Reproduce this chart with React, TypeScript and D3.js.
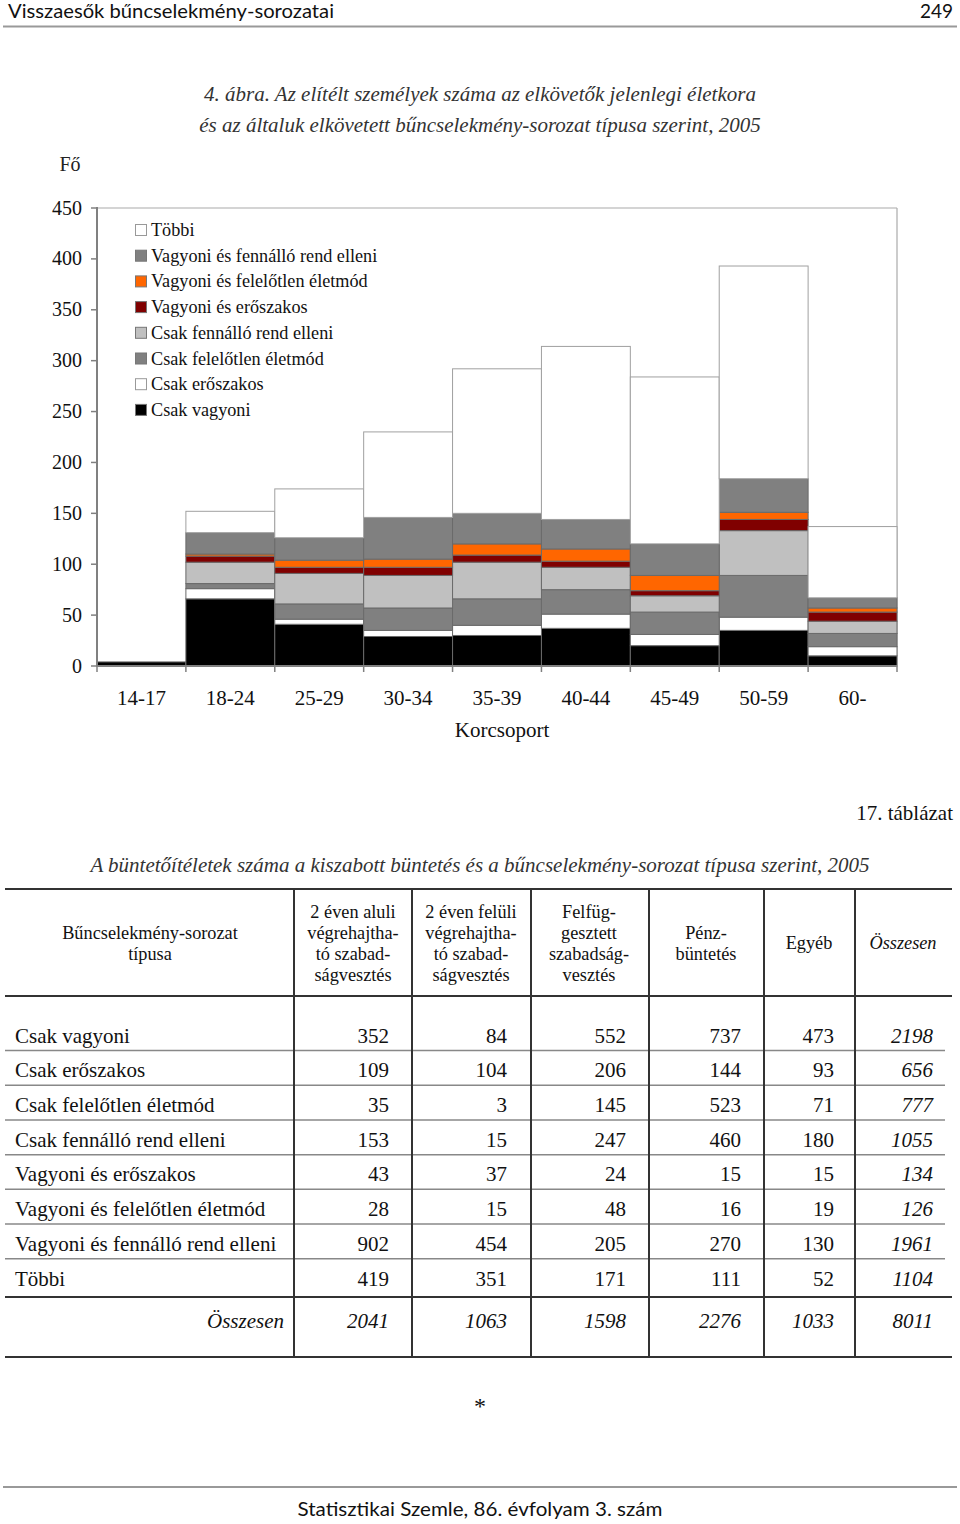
import React from "react";
import * as d3 from "d3";

// ---------- Chart data ----------
const ageGroups = ["14-17", "18-24", "25-29", "30-34", "35-39", "40-44", "45-49", "50-59", "60-"];
const csakVagyoni = [4, 66, 41, 29, 30, 37, 20, 35, 10];
const csakEroszakos = [0, 10, 5, 6, 10, 14, 11, 13, 9];
const csakFelelotlen = [0, 5, 15, 22, 26, 24, 22, 41, 13];
const csakFennallo = [0, 21, 30, 32, 36, 22, 16, 44, 12];
const vagyoniEroszakos = [0, 6, 6, 8, 7, 6, 5, 11, 9];
const vagyoniFelelotlen = [0, 2, 7, 8, 11, 12, 15, 7, 4];
const vagyoniFennallo = [0, 21, 22, 41, 30, 29, 31, 33, 10];
const tobbi = [0, 21, 48, 84, 142, 170, 164, 209, 70];
const yTicks = [0, 50, 100, 150, 200, 250, 300, 350, 400, 450];

const seriesDefs = [
  { key: "Csak vagyoni", values: csakVagyoni, color: "#000000" },
  { key: "Csak erőszakos", values: csakEroszakos, color: "#ffffff" },
  { key: "Csak felelőtlen életmód", values: csakFelelotlen, color: "#808080" },
  { key: "Csak fennálló rend elleni", values: csakFennallo, color: "#c0c0c0" },
  { key: "Vagyoni és erőszakos", values: vagyoniEroszakos, color: "#800000" },
  { key: "Vagyoni és felelőtlen életmód", values: vagyoniFelelotlen, color: "#ff6600" },
  { key: "Vagyoni és fennálló rend elleni", values: vagyoniFennallo, color: "#808080" },
  { key: "Többi", values: tobbi, color: "#ffffff" },
];

// ---------- Table data ----------
const rowLabels = [
  "Csak vagyoni",
  "Csak erőszakos",
  "Csak felelőtlen életmód",
  "Csak fennálló rend elleni",
  "Vagyoni és erőszakos",
  "Vagyoni és felelőtlen életmód",
  "Vagyoni és fennálló rend elleni",
  "Többi",
];
const colAluli = [352, 109, 35, 153, 43, 28, 902, 419];
const colFeluli = [84, 104, 3, 15, 37, 15, 454, 351];
const colFelfuggesztett = [552, 206, 145, 247, 24, 48, 205, 171];
const colPenz = [737, 144, 523, 460, 15, 16, 270, 111];
const colEgyeb = [473, 93, 71, 180, 15, 19, 130, 52];
const colOsszesen = [2198, 656, 777, 1055, 134, 126, 1961, 1104];
const totalsRow = [2041, 1063, 1598, 2276, 1033, 8011];
const headerLabels = [
  ["Bűncselekmény-sorozat", "típusa"],
  ["2 éven aluli", "végrehajtha-", "tó szabad-", "ságvesztés"],
  ["2 éven felüli", "végrehajtha-", "tó szabad-", "ságvesztés"],
  ["Felfüg-", "gesztett", "szabadság-", "vesztés"],
  ["Pénz-", "büntetés"],
  ["Egyéb"],
  ["Összesen"],
];

const serif = "'Liberation Serif', 'Times New Roman', serif";
const sans = "Lato, 'Open Sans', sans-serif";

export default function App() {
  const W = 960;
  const H = 1524;
  const plotL = 97, plotR = 897, plotT = 208, plotB = 666;

  const x = d3.scaleBand<string>().domain(ageGroups).range([plotL, plotR]).paddingInner(0).paddingOuter(0);
  const y = d3.scaleLinear().domain([0, 450]).range([plotB, plotT]);

  const tableData = ageGroups.map((g, i) => {
    const o: Record<string, any> = { group: g };
    seriesDefs.forEach((s) => (o[s.key] = s.values[i]));
    return o;
  });
  const stack = d3.stack<any>().keys(seriesDefs.map((s) => s.key));
  const stacked = stack(tableData);

  const legendItems = [...seriesDefs].reverse();

  // table layout
  const colLines = [294, 412, 531, 649, 764, 855];
  const colRights = [389, 507, 626, 741, 834, 933];
  const colCenters = [150, 353, 471, 589, 706, 809, 903];
  const tableCols = [colAluli, colFeluli, colFelfuggesztett, colPenz, colEgyeb, colOsszesen];
  const rowY = d3.scalePoint<number>().domain(d3.range(rowLabels.length)).range([1035, 1278]);
  const rowSep = d3.range(rowLabels.length - 1).map((i) => (rowY(i) as number) + 15.5);

  return (
    <svg width={W} height={H} style={{ position: "absolute", left: 0, top: 0, background: "#fff" }}>
      {/* page header */}
      <text x={8} y={18} fontFamily={sans} fontSize={19} fill="#111" textLength={326} lengthAdjust="spacingAndGlyphs">
        Visszaesők bűncselekmény-sorozatai
      </text>
      <text x={953} y={18} fontFamily={sans} fontSize={19} fill="#111" textAnchor="end">249</text>
      <line x1={3} x2={957} y1={26.5} y2={26.5} stroke="#999" strokeWidth={2} />

      {/* figure title */}
      <text x={480} y={101} textAnchor="middle" fontFamily={serif} fontStyle="italic" fontSize={21} fill="#333">
        4. ábra. Az elítélt személyek száma az elkövetők jelenlegi életkora
      </text>
      <text x={480} y={132} textAnchor="middle" fontFamily={serif} fontStyle="italic" fontSize={21} fill="#333">
        és az általuk elkövetett bűncselekmény-sorozat típusa szerint, 2005
      </text>

      {/* unit */}
      <text x={70} y={171} textAnchor="middle" fontFamily={serif} fontSize={20} fill="#222">Fő</text>

      {/* plot frame */}
      <line x1={plotL} x2={plotR} y1={plotT} y2={plotT} stroke="#aaa" strokeWidth={1.2} />
      <line x1={plotR} x2={plotR} y1={plotT} y2={plotB} stroke="#aaa" strokeWidth={1.2} />

      {/* bars */}
      {stacked.map((layer, li) => (
        <g key={layer.key}>
          {layer.map((d, i) => {
            const h = y(d[0]) - y(d[1]);
            if (h <= 0) return null;
            return (
              <rect
                key={i}
                x={x(ageGroups[i]) as number}
                y={y(d[1])}
                width={x.bandwidth()}
                height={h}
                fill={seriesDefs[li].color}
                stroke={seriesDefs[li].key === "Többi" ? "#a0a0a0" : "#6a6a6a"}
                strokeWidth={1}
              />
            );
          })}
        </g>
      ))}

      {/* y axis */}
      <line x1={plotL} x2={plotL} y1={plotT - 1} y2={plotB + 1} stroke="#808080" strokeWidth={2} />
      {yTicks.map((t) => (
        <g key={t}>
          <line x1={plotL - 6} x2={plotL} y1={y(t)} y2={y(t)} stroke="#808080" strokeWidth={1.5} />
          <text x={82} y={y(t) + 6.5} textAnchor="end" fontFamily={serif} fontSize={20} fill="#111">{t}</text>
        </g>
      ))}

      {/* x axis */}
      <line x1={plotL} x2={plotR} y1={plotB} y2={plotB} stroke="#808080" strokeWidth={2} />
      {[...ageGroups.map((g) => x(g) as number), plotR].map((px, i) => (
        <line key={i} x1={px} x2={px} y1={plotB} y2={plotB + 6} stroke="#808080" strokeWidth={1.5} />
      ))}
      {ageGroups.map((g) => (
        <text key={g} x={(x(g) as number) + x.bandwidth() / 2} y={705} textAnchor="middle" fontFamily={serif} fontSize={21} fill="#111">
          {g}
        </text>
      ))}
      <text x={502} y={737} textAnchor="middle" fontFamily={serif} fontSize={21} fill="#111">Korcsoport</text>

      {/* legend */}
      {legendItems.map((s, i) => {
        const cy = 230 + i * 25.7;
        return (
          <g key={s.key}>
            <rect x={135.5} y={cy - 5.5} width={11} height={11} fill={s.color} stroke={s.color === "#ffffff" ? "#999" : "#777"} strokeWidth={1} />
            <text x={151} y={cy + 6} fontFamily={serif} fontSize={18.2} fill="#111">{s.key}</text>
          </g>
        );
      })}

      {/* table title */}
      <text x={953} y={820} textAnchor="end" fontFamily={serif} fontSize={21} fill="#111">17. táblázat</text>
      <text x={480} y={872} textAnchor="middle" fontFamily={serif} fontStyle="italic" fontSize={21} fill="#333">
        A büntetőítéletek száma a kiszabott büntetés és a bűncselekmény-sorozat típusa szerint, 2005
      </text>

      {/* table lines */}
      <line x1={5} x2={952} y1={889} y2={889} stroke="#333" strokeWidth={2} />
      <line x1={5} x2={952} y1={996} y2={996} stroke="#333" strokeWidth={2} />
      {rowSep.map((ry, i) => (
        <line key={i} x1={5} x2={945} y1={ry} y2={ry} stroke="#888" strokeWidth={1.5} />
      ))}
      <line x1={5} x2={952} y1={1297} y2={1297} stroke="#333" strokeWidth={2} />
      <line x1={5} x2={952} y1={1357} y2={1357} stroke="#333" strokeWidth={2} />
      {colLines.map((cx) => (
        <line key={cx} x1={cx} x2={cx} y1={889} y2={1357} stroke="#333" strokeWidth={2} />
      ))}

      {/* table header */}
      {headerLabels.map((lines, ci) => {
        const n = lines.length;
        const startY = 943 - ((n - 1) * 21) / 2;
        return lines.map((ln, li) => (
          <text
            key={ci + "-" + li}
            x={colCenters[ci]}
            y={startY + li * 21 + 6}
            textAnchor="middle"
            fontFamily={serif}
            fontSize={18.3}
            fontStyle={ci === 6 ? "italic" : "normal"}
            fill="#111"
          >
            {ln}
          </text>
        ));
      })}

      {/* table body */}
      {rowLabels.map((lbl, ri) => {
        const ry = rowY(ri) as number;
        return (
          <g key={lbl}>
            <text x={15} y={ry + 7.5} fontFamily={serif} fontSize={21} fill="#111">{lbl}</text>
            {tableCols.map((col, ci) => (
              <text
                key={ci}
                x={colRights[ci]}
                y={ry + 7.5}
                textAnchor="end"
                fontFamily={serif}
                fontSize={21}
                fontStyle={ci === 5 ? "italic" : "normal"}
                fill="#111"
              >
                {col[ri]}
              </text>
            ))}
          </g>
        );
      })}

      {/* totals row */}
      <text x={284} y={1328} textAnchor="end" fontFamily={serif} fontSize={21} fontStyle="italic" fill="#111">Összesen</text>
      {totalsRow.map((v, ci) => (
        <text key={ci} x={colRights[ci]} y={1328} textAnchor="end" fontFamily={serif} fontSize={21} fontStyle="italic" fill="#111">
          {v}
        </text>
      ))}

      <text x={480} y={1414} textAnchor="middle" fontFamily={serif} fontSize={24} fill="#111">*</text>

      {/* footer */}
      <line x1={3} x2={957} y1={1487} y2={1487} stroke="#999" strokeWidth={2} />
      <text x={480} y={1516} textAnchor="middle" fontFamily={sans} fontSize={19} fill="#111" textLength={365} lengthAdjust="spacingAndGlyphs">
        Statisztikai Szemle, 86. évfolyam 3. szám
      </text>
    </svg>
  );
}
